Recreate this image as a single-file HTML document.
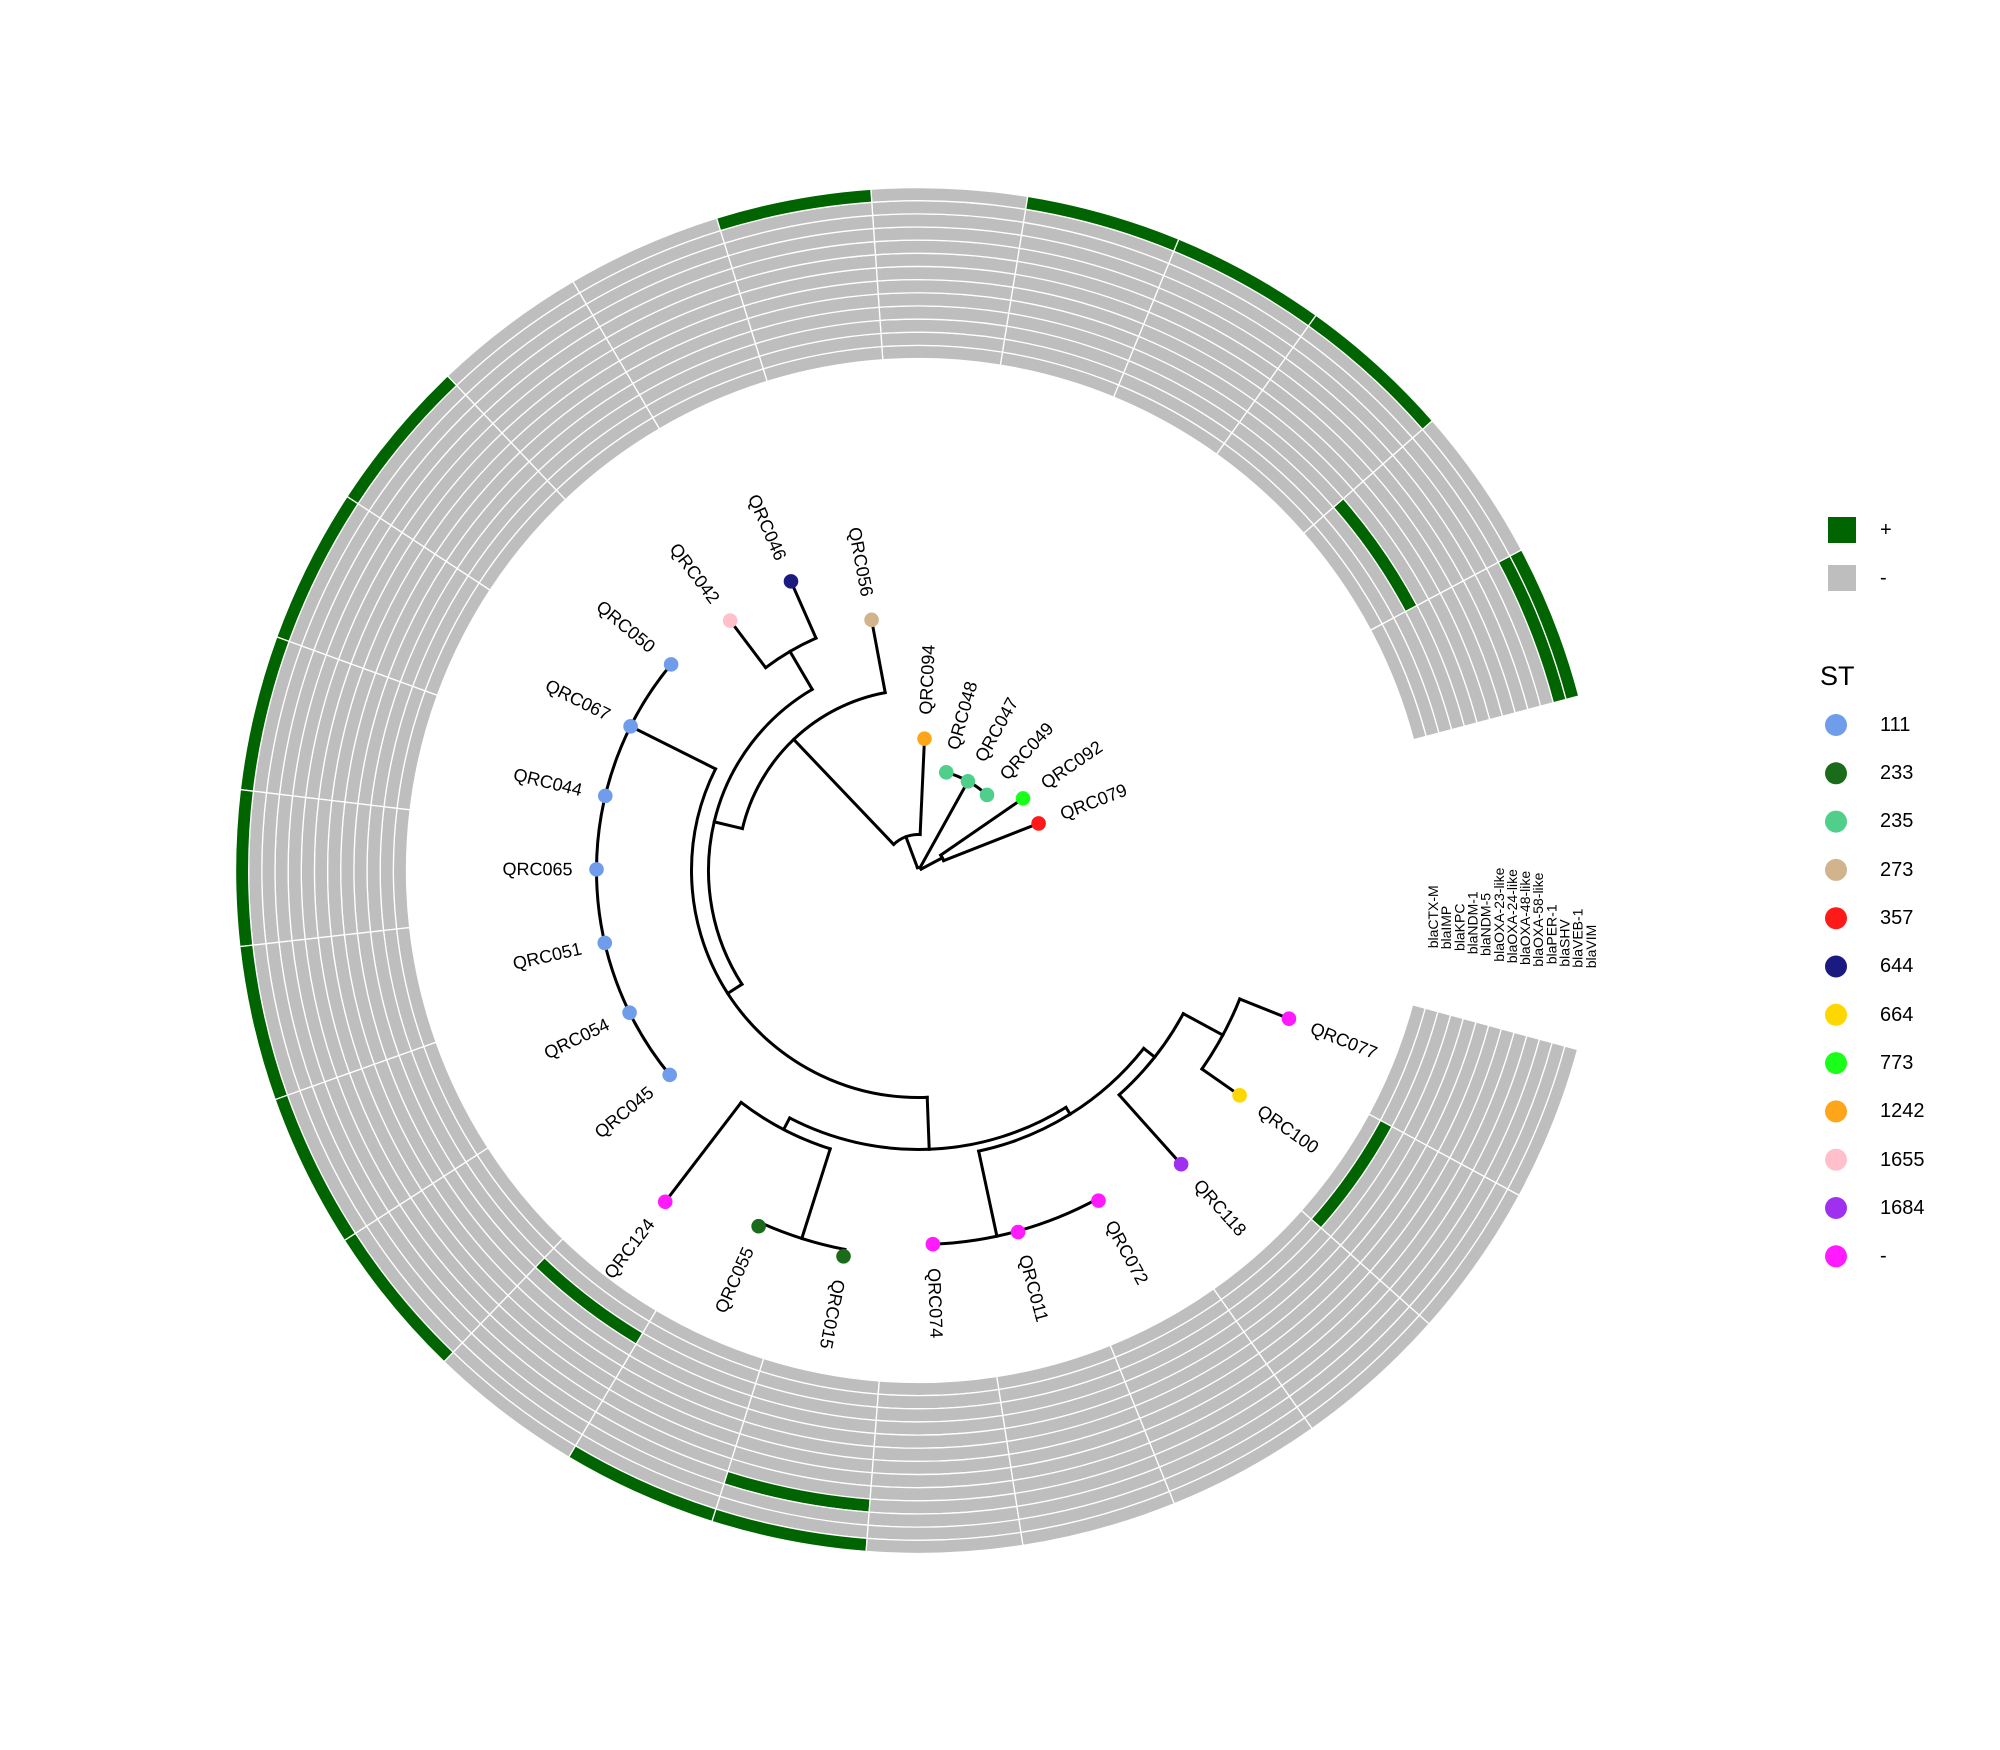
<!DOCTYPE html>
<html><head><meta charset="utf-8"><style>
html,body{margin:0;padding:0;background:#fff;}
svg{display:block;}
text{font-family:"Liberation Sans",Arial,sans-serif;fill:#000;}
</style></head><body>
<svg id="s" width="2000" height="1750" viewBox="0 0 2000 1750" xmlns="http://www.w3.org/2000/svg">
<rect width="2000" height="1750" fill="#fff"/>
<g id="rings"></g>
<g id="tree" fill="none" stroke="#000" stroke-width="3" stroke-linecap="square"></g>
<g id="dots"></g>
<g font-size="18" dominant-baseline="central">
<text transform="translate(918.5 870.5) rotate(-21.4) translate(153 0)">QRC079</text>
<text transform="translate(918.5 870.5) rotate(-34.6) translate(151 0)">QRC092</text>
<text transform="translate(918.5 870.5) rotate(-47.8) translate(126 0)">QRC049</text>
<text transform="translate(918.5 870.5) rotate(-61) translate(126 0)">QRC047</text>
<text transform="translate(918.5 870.5) rotate(-74.2) translate(126 0)">QRC048</text>
<text transform="translate(918.5 870.5) rotate(-87.4) translate(156 0)">QRC094</text>
<text text-anchor="end" transform="translate(918.5 870.5) rotate(79.4) translate(-279 0)">QRC056</text>
<text text-anchor="end" transform="translate(918.5 870.5) rotate(66.2) translate(-340 0)">QRC046</text>
<text text-anchor="end" transform="translate(918.5 870.5) rotate(53) translate(-337 0)">QRC042</text>
<text text-anchor="end" transform="translate(918.5 870.5) rotate(39.8) translate(-346 0)">QRC050</text>
<text text-anchor="end" transform="translate(918.5 870.5) rotate(26.6) translate(-346 0)">QRC067</text>
<text text-anchor="end" transform="translate(918.5 870.5) rotate(13.4) translate(-346 0)">QRC044</text>
<text text-anchor="end" transform="translate(918.5 870.5) rotate(0.2) translate(-346 0)">QRC065</text>
<text text-anchor="end" transform="translate(918.5 870.5) rotate(-13) translate(-346 0)">QRC051</text>
<text text-anchor="end" transform="translate(918.5 870.5) rotate(-26.2) translate(-346 0)">QRC054</text>
<text text-anchor="end" transform="translate(918.5 870.5) rotate(-39.4) translate(-346 0)">QRC045</text>
<text text-anchor="end" transform="translate(918.5 870.5) rotate(-52.6) translate(-441 0)">QRC124</text>
<text text-anchor="end" transform="translate(918.5 870.5) rotate(-65.8) translate(-414 0)">QRC055</text>
<text transform="translate(918.5 870.5) rotate(-259) translate(417 0)">QRC015</text>
<text transform="translate(918.5 870.5) rotate(-272.2) translate(398 0)">QRC074</text>
<text transform="translate(918.5 870.5) rotate(-285.4) translate(399 0)">QRC011</text>
<text transform="translate(918.5 870.5) rotate(-298.6) translate(400 0)">QRC072</text>
<text transform="translate(918.5 870.5) rotate(-311.8) translate(418 0)">QRC118</text>
<text transform="translate(918.5 870.5) rotate(-325) translate(416 0)">QRC100</text>
<text transform="translate(918.5 870.5) rotate(-338.2) translate(423 0)">QRC077</text>
</g>
<g font-size="14">
<text transform="translate(1438 948.3) rotate(-90)">blaCTX-M</text>
<text transform="translate(1451.2 949.3) rotate(-90)">blaIMP</text>
<text transform="translate(1464.3 951) rotate(-90)">blaKPC</text>
<text transform="translate(1477.5 954.3) rotate(-90)">blaNDM-1</text>
<text transform="translate(1490.6 956) rotate(-90)">blaNDM-5</text>
<text transform="translate(1503.8 961.7) rotate(-90)">blaOXA-23-like</text>
<text transform="translate(1516.9 963.3) rotate(-90)">blaOXA-24-like</text>
<text transform="translate(1530 965) rotate(-90)">blaOXA-48-like</text>
<text transform="translate(1543.2 966.7) rotate(-90)">blaOXA-58-like</text>
<text transform="translate(1556.4 964.3) rotate(-90)">blaPER-1</text>
<text transform="translate(1569.5 966.7) rotate(-90)">blaSHV</text>
<text transform="translate(1582.7 967.7) rotate(-90)">blaVEB-1</text>
<text transform="translate(1595.8 968.3) rotate(-90)">blaVIM</text>
</g>
<g>
<rect x="1828" y="517" width="28" height="26" fill="#006400"/>
<rect x="1828" y="565" width="28" height="26" fill="#bebebe"/>
<g font-size="20" dominant-baseline="central">
<text x="1880" y="530">+</text>
<text x="1880" y="578">-</text>
</g>
<text x="1820" y="676" font-size="27" dominant-baseline="central">ST</text>
<g id="leg" font-size="20" dominant-baseline="central">
<text x="1880" y="725">111</text>
<text x="1880" y="773">233</text>
<text x="1880" y="821">235</text>
<text x="1880" y="870">273</text>
<text x="1880" y="918">357</text>
<text x="1880" y="966">644</text>
<text x="1880" y="1015">664</text>
<text x="1880" y="1063">773</text>
<text x="1880" y="1111">1242</text>
<text x="1880" y="1160">1655</text>
<text x="1880" y="1208">1684</text>
<text x="1880" y="1256">-</text>
</g>
</g>
</svg>
<script>
(function(){
var NS="http://www.w3.org/2000/svg",cx=918.5,cy=870.5;
function P(r,a){a=a*Math.PI/180;return [cx+r*Math.cos(a),cy-r*Math.sin(a)];}
function el(t,attrs,parent){var e=document.createElementNS(NS,t);for(var k in attrs)e.setAttribute(k,attrs[k]);parent.appendChild(e);return e;}
function f(p){return p[0].toFixed(2)+" "+p[1].toFixed(2);}
var rg=document.getElementById("rings");
var green={0:[11,12],1:[3],2:[12],3:[12],4:[12],6:[12],9:[12],10:[12],11:[12],12:[12],13:[12],14:[12],15:[12],16:[2],17:[12],18:[9,12],23:[1]};
for(var k=0;k<25;k++){var a1=14.8+13.2*k,a2=a1+13.2;
 for(var j=0;j<13;j++){var r1=512+13.15*j,r2=r1+13.15;
  var g=green[k]&&green[k].indexOf(j)>=0;
  var d="M"+f(P(r2,a1))+" A"+r2+" "+r2+" 0 0 0 "+f(P(r2,a2))+" L"+f(P(r1,a2))+" A"+r1+" "+r1+" 0 0 1 "+f(P(r1,a1))+"Z";
  el("path",{d:d,fill:g?"#006400":"#bebebe",stroke:"#fff","stroke-width":"1.3"},rg);
 }}
var tr=document.getElementById("tree");
function arc(r,a1,a2){var large=(a2-a1)>180?1:0;el("path",{d:"M"+f(P(r,a1))+" A"+r+" "+r+" 0 "+large+" 0 "+f(P(r,a2))},tr);}
function rad(r1,r2,a){el("path",{d:"M"+f(P(r1,a))+" L"+f(P(r2,a))},tr);}
var arcs=[[3,28,110.5],[27,21.4,34.6],[102,47.8,74.2],[36,87.4,133.6],[181,100.6,166.6],[210,120.4,212.8],[254,113.8,127],[227,153.4,272.2],[322,140.2,219.4],[279,242.5,301.9],[292,232.6,252.4],[386,245.8,259],[287,282.1,321.7],[374,272.2,298.6],[301,311.8,331.6],[346,325,338.2]];
arcs.forEach(function(a){arc(a[0],a[1],a[2]);});
var rads=[[3,27,28],[27,129,21.4],[27,127,34.6],[3,102,61],[3,36,110.5],[36,132,87.4],[36,181,133.6],[181,255,100.6],[181,210,166.6],[210,254,120.4],[254,316,113.8],[254,313,127],[210,227,212.8],[227,322,153.4],[227,279,272.2],[279,292,242.5],[292,417,232.6],[292,386,252.4],[386,390,245.8],[386,393,259],[279,287,301.9],[287,374,282.1],[287,301,321.7],[301,394,311.8],[301,346,331.6],[346,392,325],[346,399,338.2]];
rads.forEach(function(a){rad(a[0],a[1],a[2]);});
var C={"111":"#6f9ceb","233":"#1a6b1a","235":"#4fcf8a","273":"#d2b48c","357":"#ff1a1a","644":"#1a1a80","664":"#ffd700","773":"#1aff1a","1242":"#ffa51a","1655":"#ffc0cb","1684":"#a030f0","-":"#ff1aff"};
var tips=[[129,"357"],[127,"773"],[102,"235"],[102,"235"],[102,"235"],[132,"1242"],[255,"273"],[316,"644"],[313,"1655"],[322,"111"],[322,"111"],[322,"111"],[322,"111"],[322,"111"],[322,"111"],[322,"111"],[417,"-"],[390,"233"],[393,"233"],[374,"-"],[375,"-"],[376,"-"],[394,"1684"],[392,"664"],[399,"-"]];
var dg=document.getElementById("dots");
tips.forEach(function(t,i){var p=P(t[0],21.4+13.2*i);el("circle",{cx:p[0],cy:p[1],r:7.3,fill:C[t[1]]},dg);});
var keys=["111","233","235","273","357","644","664","773","1242","1655","1684","-"];
keys.forEach(function(k,i){el("ellipse",{cx:1836,cy:725+48.3*i,rx:11,ry:11,fill:C[k]},dg);});
})();
</script>
</body></html>
